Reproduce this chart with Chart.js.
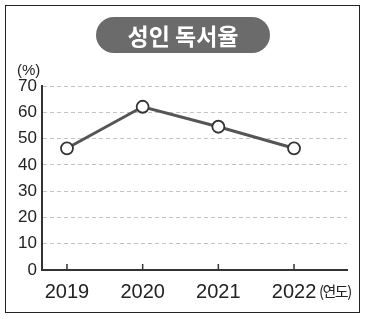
<!DOCTYPE html>
<html>
<head>
<meta charset="utf-8">
<script src="https://cdn.jsdelivr.net/npm/chart.js@4"></script>
<style>
  body { margin: 0; background: #fff; }
  #wrap { position: relative; width: 366px; height: 319px; }
  #frame { position: absolute; left: 5px; top: 5px; width: 353px; height: 306px; border: 1.5px solid #222; }
  #title { position: absolute; left: 96px; top: 17px; width: 174px; height: 36px; border-radius: 18px;
    background: #6b6b6b; color: #fff; font: 700 23px "Noto Sans CJK KR", sans-serif;
    text-align: center; line-height: 36px; }
  .unit { position: absolute; color: #222; font-family: "Liberation Sans", sans-serif; }
  #ylab { left: 17px; top: 61px; font-size: 15px; }
  #xlab { left: 319px; top: 280px; font-size: 15px; font-family: "Noto Sans CJK KR", sans-serif; letter-spacing: -1.5px; }
  canvas { position: absolute; left: 0; top: 0; }
</style>
</head>
<body>
<div id="wrap">
  <canvas id="chart" width="366" height="319"></canvas>
  <div id="frame"></div>
  <div id="title">성인 독서율</div>
  <div class="unit" id="ylab">(%)</div>
  <div class="unit" id="xlab">(연도)</div>
</div>
<script>
const years = [2019, 2020, 2021, 2022];
const readingRate = [46.3, 62.1, 54.5, 46.3];
const yTicks = [0, 10, 20, 30, 40, 50, 60, 70];

document.addEventListener("DOMContentLoaded", () => {
  const ctx = document.getElementById("chart").getContext("2d");

  // small tick marks pointing up from the x axis
  const innerTicks = {
    id: "innerTicks",
    afterDatasetsDraw(chart) {
      const x = chart.scales.x;
      const c = chart.ctx;
      c.save();
      c.strokeStyle = "#333";
      c.lineWidth = 1.5;
      years.forEach(yr => {
        const px = x.getPixelForValue(yr);
        c.beginPath();
        c.moveTo(px, chart.chartArea.bottom);
        c.lineTo(px, chart.chartArea.bottom - 6);
        c.stroke();
      });
      c.restore();
    }
  };

  new Chart(ctx, {
    type: "line",
    data: {
      datasets: [{
        data: years.map((yr, i) => ({ x: yr, y: readingRate[i] })),
        borderColor: "#555",
        borderWidth: 3,
        pointRadius: 6,
        pointBorderWidth: 1.8,
        pointBorderColor: "#333",
        pointBackgroundColor: "#fff",
        tension: 0
      }]
    },
    options: {
      responsive: false,
      animation: false,
      layout: { padding: { left: 0, right: 19, top: 86, bottom: 0 } },
      plugins: { legend: { display: false }, tooltip: { enabled: false } },
      scales: {
        x: {
          type: "linear",
          min: 2018.67,
          max: 2022.7,
          afterBuildTicks: axis => { axis.ticks = years.map(v => ({ value: v })); },
          afterFit: axis => { axis.height = 49; },
          grid: { display: false },
          border: { color: "#333", width: 2 },
          ticks: {
            color: "#222",
            padding: 2,
            font: { family: "Liberation Sans", size: 20 },
            callback: v => String(v)
          }
        },
        y: {
          min: 0,
          max: 70,
          afterBuildTicks: axis => { axis.ticks = yTicks.map(v => ({ value: v })); },
          afterFit: axis => { axis.width = 42; },
          grid: { color: "#c4c4c4", lineWidth: 1, drawTicks: false },
          border: { color: "#333", width: 2, dash: [4, 3] },
          ticks: {
            color: "#222",
            padding: 5,
            font: { family: "Liberation Sans", size: 17 }
          }
        }
      }
    },
    plugins: [innerTicks]
  });
});
</script>
</body>
</html>
